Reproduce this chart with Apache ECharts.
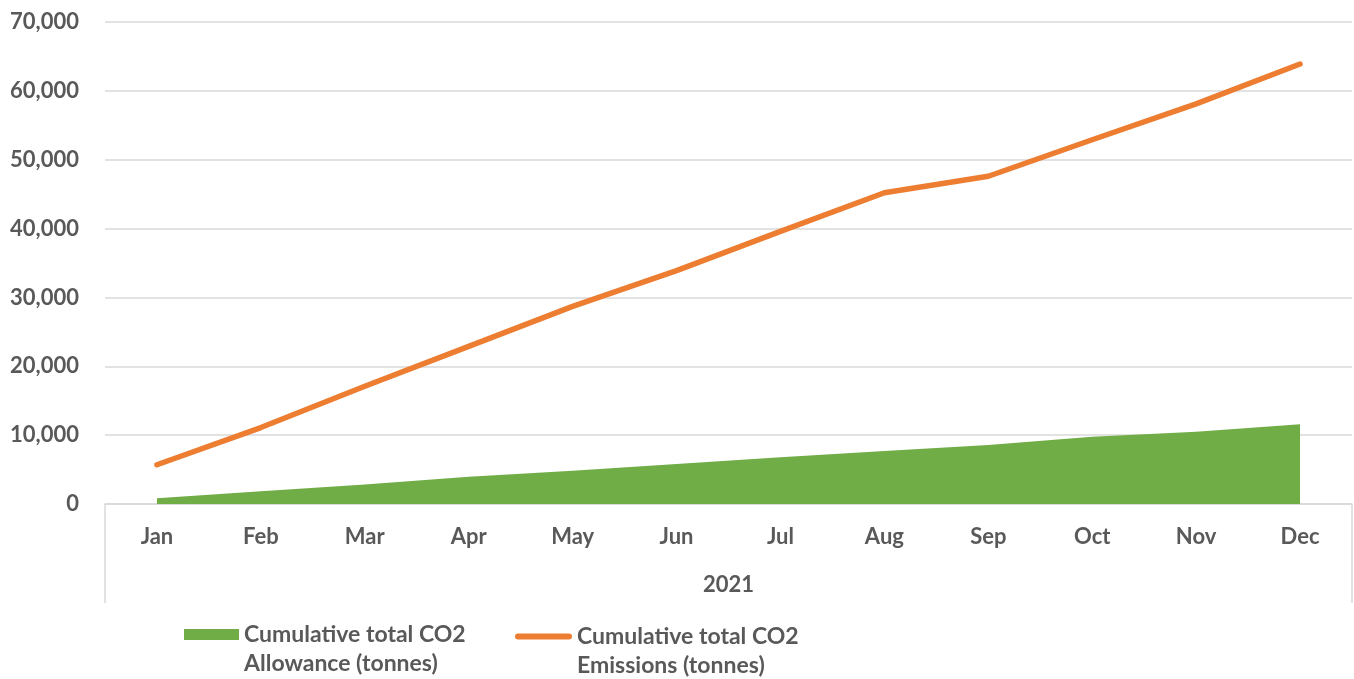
<!DOCTYPE html>
<html>
<head>
<meta charset="utf-8">
<script src="https://cdn.jsdelivr.net/npm/echarts@6/dist/echarts.min.js"></script>
<style>
  html, body { margin: 0; padding: 0; background: #fff; }
  #chart { width: 1354px; height: 679px; }
</style>
</head>
<body>
<div id="chart"></div>
<script>
// Monthly categories and the year group shown beneath them
const months = ['Jan', 'Feb', 'Mar', 'Apr', 'May', 'Jun', 'Jul', 'Aug', 'Sep', 'Oct', 'Nov', 'Dec'];
const yearGroup = ['2021'];

// Cumulative totals (tonnes)
const allowance = [830, 1840, 2830, 3950, 4840, 5800, 6780, 7700, 8570, 9780, 10500, 11570];
const emissions = [5700, 11100, 17100, 22900, 28700, 33900, 39600, 45200, 47600, 52900, 58100, 63900];

const allowanceName = 'Cumulative total CO2\nAllowance (tonnes)';
const emissionsName = 'Cumulative total CO2\nEmissions (tonnes)';

const GREEN = '#70AD47';
const ORANGE = '#ED7D31';
const TEXT = '#595959';
const GRID = '#d9d9d9';
const FONT = 'Lato, "Open Sans", sans-serif';

// Two-line legend labels: a leading blank line keeps the first line level with the key
const legendText = {
  color: TEXT, fontFamily: FONT, fontWeight: 'bold', fontSize: 23, lineHeight: 29
};
const legendFormatter = name => '\n' + name;

const chart = echarts.init(document.getElementById('chart'), null, { renderer: 'canvas' });
chart.setOption({
  animation: false,
  backgroundColor: '#ffffff',
  grid: { left: 105, right: 2, top: 22, bottom: 175, containLabel: false },
  xAxis: [
    {
      type: 'category',
      data: months,
      boundaryGap: true,
      axisLine: { show: true, lineStyle: { color: GRID, width: 1.5 } },
      axisTick: { show: false },
      axisLabel: { margin: 22, color: TEXT, fontFamily: FONT, fontWeight: 'bold', fontSize: 22 }
    },
    {
      type: 'category',
      data: yearGroup,
      position: 'bottom',
      boundaryGap: true,
      axisLine: { show: false },
      axisTick: { show: true, length: 99, interval: 0, lineStyle: { color: GRID, width: 1.5 } },
      axisLabel: { margin: 70, color: TEXT, fontFamily: FONT, fontWeight: 'bold', fontSize: 22 }
    }
  ],
  yAxis: {
    type: 'value',
    min: 0,
    max: 70000,
    interval: 10000,
    axisLine: { show: false },
    axisTick: { show: false },
    splitLine: { lineStyle: { color: GRID, width: 1.5 } },
    axisLabel: {
      margin: 26, color: TEXT, fontFamily: FONT, fontWeight: 'bold', fontSize: 22,
      formatter: v => v.toLocaleString('en-US')
    }
  },
  legend: [
    {
      left: 179, top: 586, itemWidth: 55, itemHeight: 11,
      data: [{ name: allowanceName, icon: 'rect' }],
      formatter: legendFormatter,
      textStyle: legendText
    },
    {
      left: 510, top: 588, itemWidth: 57, itemHeight: 11,
      data: [{ name: emissionsName, icon: 'path://M3,0 L54,0 A3,3 0 0 1 54,6 L3,6 A3,3 0 0 1 3,0 Z' }],
      formatter: legendFormatter,
      textStyle: legendText
    }
  ],
  series: [
    {
      name: allowanceName,
      type: 'line',
      xAxisIndex: 0,
      data: allowance,
      symbol: 'none',
      color: GREEN,
      lineStyle: { width: 0, color: GREEN },
      areaStyle: { color: GREEN, opacity: 1 },
      z: 2
    },
    {
      name: emissionsName,
      type: 'line',
      xAxisIndex: 0,
      data: emissions,
      symbol: 'none',
      color: ORANGE,
      lineStyle: { width: 5.5, color: ORANGE, cap: 'round', join: 'round' },
      z: 3
    }
  ]
});
</script>
</body>
</html>
